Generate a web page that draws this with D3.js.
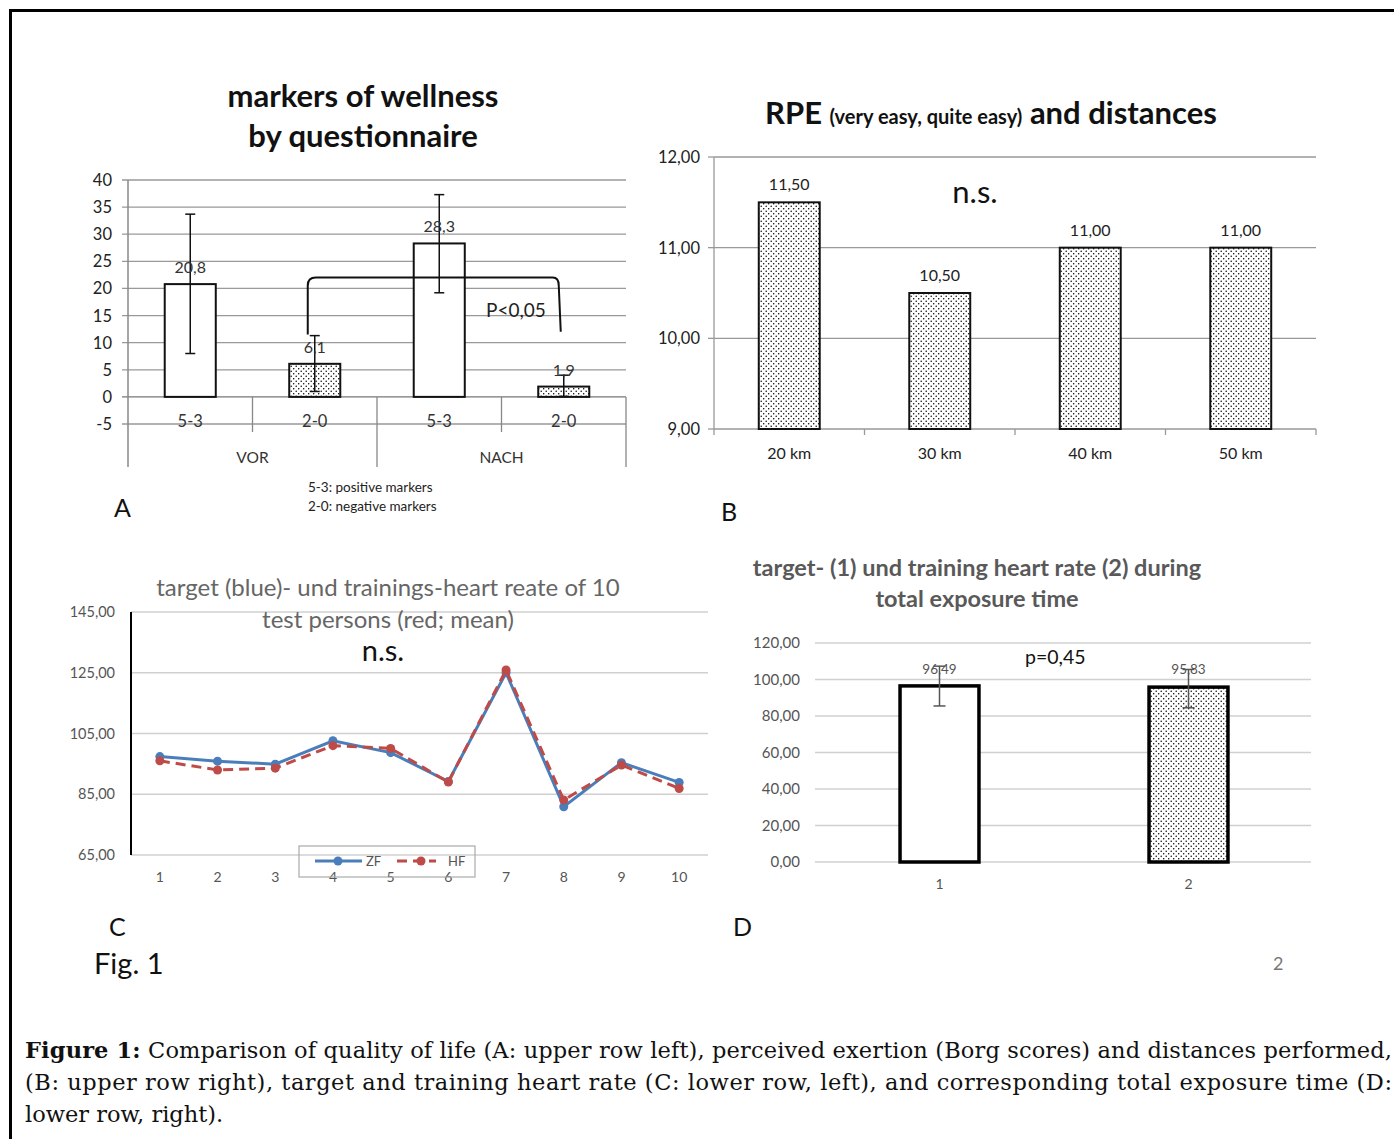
<!DOCTYPE html>
<html><head><meta charset="utf-8">
<script src="https://cdn.jsdelivr.net/npm/d3@7"></script>
<style>
body{margin:0;background:#fff;}
svg{display:block;font-family:Lato,"Open Sans",sans-serif;}
.serif{font-family:"DejaVu Serif","Liberation Serif",serif;}
</style></head>
<body>
<svg id="fig" width="1394" height="1139"></svg>
<script>
// ---------- Panel A data ----------
const aGroups = ["VOR","VOR","NACH","NACH"];
const aCats = ["5-3","2-0","5-3","2-0"];
const aValues = [20.8, 6.1, 28.3, 1.9];
const aLabels = ["20,8","6,1","28,3","1,9"];
const aErrLow = [8.0, 1.0, 19.2, 0.1];
const aErrHigh = [33.7, 11.3, 37.3, 4.0];
const aTicks = [-5,0,5,10,15,20,25,30,35,40];

// ---------- Panel B data ----------
const bCats = ["20 km","30 km","40 km","50 km"];
const bValues = [11.5, 10.5, 11.0, 11.0];
const bLabels = ["11,50","10,50","11,00","11,00"];
const bTicks = [9,10,11,12];

// ---------- Panel C data ----------
const cCats = ["1","2","3","4","5","6","7","8","9","10"];
const cZF = [97.4, 95.9, 94.9, 102.6, 98.7, 89.2, 125.0, 80.9, 95.4, 88.9];
const cHF = [96.0, 93.0, 93.6, 101.0, 100.1, 89.0, 125.9, 83.1, 94.6, 86.9];
const cTicks = [65,85,105,125,145];

// ---------- Panel D data ----------
const dCats = ["1","2"];
const dValues = [96.49, 95.83];
const dLabels = ["96,49","95,83"];
const dErrLow = [85.5, 84.5];
const dErrHigh = [107.3, 105.5];
const dTicks = [0,20,40,60,80,100,120];

const fmt2 = d => d.toFixed(2).replace(".", ",");

const svg = d3.select("#fig");
const defs = svg.append("defs");
const pat = defs.append("pattern").attr("id","dots").attr("patternUnits","userSpaceOnUse")
  .attr("width",5).attr("height",5);
pat.append("rect").attr("width",5).attr("height",5).attr("fill","#fff");
pat.append("circle").attr("cx",1.2).attr("cy",1.2).attr("r",0.75).attr("fill","#000");
pat.append("circle").attr("cx",3.7).attr("cy",3.7).attr("r",0.75).attr("fill","#000");

// outer frame
svg.append("path").attr("d","M1400,10.5 H10.5 V1145").attr("fill","none").attr("stroke","#000").attr("stroke-width",3);

// ================= PANEL A =================
{
  const g = svg.append("g");
  const y = d3.scaleLinear().domain([-5,40]).range([424,180]);
  const x = d3.scaleBand().domain(d3.range(4)).range([128,626]).paddingInner(0.59).paddingOuter(0.295);
  const step = x.step();
  g.append("text").attr("x",363).attr("y",107).attr("text-anchor","middle").attr("font-size",31).attr("font-weight","bold").attr("fill","#111").text("markers of wellness");
  g.append("text").attr("x",363).attr("y",147).attr("text-anchor","middle").attr("font-size",31).attr("font-weight","bold").attr("fill","#111").text("by questionnaire");
  g.selectAll(".ga").data(aTicks).join("line")
    .attr("x1",122).attr("x2",626).attr("y1",d=>y(d)).attr("y2",d=>y(d))
    .attr("stroke", d=> d===0 ? "#777" : "#999").attr("stroke-width",1.3);
  g.selectAll(".ta").data(aTicks).join("text")
    .attr("x",112).attr("y",d=>y(d)+6).attr("text-anchor","end").attr("font-size",16.5).attr("fill","#222")
    .text(d=>d);
  g.append("line").attr("x1",128).attr("x2",128).attr("y1",180).attr("y2",467).attr("stroke","#888").attr("stroke-width",1.5);
  const sep = [[128+step,432],[128+2*step,467],[128+3*step,432],[626,467]];
  g.selectAll(".sa").data(sep).join("line")
    .attr("x1",d=>d[0]).attr("x2",d=>d[0]).attr("y1",y(0)).attr("y2",d=>d[1]).attr("stroke","#888").attr("stroke-width",1.3);
  g.selectAll(".ca").data(aCats).join("text")
    .attr("x",(d,i)=>x(i)+x.bandwidth()/2).attr("y",427).attr("text-anchor","middle").attr("font-size",16.5).attr("fill","#333").text(d=>d);
  const groups = ["VOR","NACH"];
  g.selectAll(".grA").data(groups).join("text")
    .attr("x",(d,i)=>128+step*(2*i+1)).attr("y",463).attr("text-anchor","middle").attr("font-size",15.5).attr("fill","#333").text(d=>d);
  g.selectAll(".ba").data(aValues).join("rect")
    .attr("x",(d,i)=>x(i)).attr("width",x.bandwidth())
    .attr("y",d=>y(d)).attr("height",d=>y(0)-y(d))
    .attr("fill",(d,i)=> aCats[i]==="2-0" ? "url(#dots)" : "#fff")
    .attr("stroke","#111").attr("stroke-width",2);
  aValues.forEach((v,i)=>{
    const cx = x(i)+x.bandwidth()/2;
    g.append("line").attr("x1",cx).attr("x2",cx).attr("y1",y(aErrLow[i])).attr("y2",y(aErrHigh[i])).attr("stroke","#111").attr("stroke-width",1.5);
    [aErrLow[i],aErrHigh[i]].forEach(e=>g.append("line").attr("x1",cx-5).attr("x2",cx+5).attr("y1",y(e)).attr("y2",y(e)).attr("stroke","#111").attr("stroke-width",1.5));
  });
  g.selectAll(".la").data(aLabels).join("text")
    .attr("x",(d,i)=>x(i)+x.bandwidth()/2).attr("y",(d,i)=>y(aValues[i])-11)
    .attr("text-anchor","middle").attr("font-size",16).attr("fill","#333").text(d=>d);
  const x1 = x(1)+x.bandwidth()/2-7, x2 = x(3)+x.bandwidth()/2-5;
  const yt = y(22);
  g.append("path").attr("d",`M${x1},${y(11.5)} L${x1},${yt+8} Q${x1},${yt} ${x1+8},${yt} L${x2-6},${yt} Q${x2},${yt} ${x2},${yt+8} L${x2+2},${y(12)}`)
    .attr("fill","none").attr("stroke","#111").attr("stroke-width",2);
  g.append("text").attr("x",486).attr("y",317).attr("font-size",19).attr("fill","#222").text("P<0,05");
  g.append("text").attr("x",308).attr("y",492).attr("font-size",13.5).attr("fill","#222").text("5-3: positive markers");
  g.append("text").attr("x",308).attr("y",511).attr("font-size",13.5).attr("fill","#222").text("2-0: negative markers");
  g.append("text").attr("x",114).attr("y",517).attr("font-size",25).attr("fill","#111").text("A");
}

// ================= PANEL B =================
{
  const g = svg.append("g");
  const y = d3.scaleLinear().domain([9,12]).range([429,157]);
  const x = d3.scaleBand().domain(bCats).range([714,1316]).paddingInner(0.595).paddingOuter(0.2975);
  const t = g.append("text").attr("x",991).attr("y",124).attr("text-anchor","middle").attr("font-weight","bold").attr("fill","#111");
  t.append("tspan").attr("font-size",31).text("RPE ");
  t.append("tspan").attr("font-size",20).text("(very  easy, quite easy)");
  t.append("tspan").attr("font-size",31).text(" and distances");
  g.selectAll(".gb").data(bTicks.filter(d=>d>9)).join("line")
    .attr("x1",714).attr("x2",1316).attr("y1",d=>y(d)).attr("y2",d=>y(d)).attr("stroke","#999").attr("stroke-width",1.3);
  g.selectAll(".tk").data(bTicks).join("line")
    .attr("x1",708).attr("x2",714).attr("y1",d=>y(d)).attr("y2",d=>y(d)).attr("stroke","#999").attr("stroke-width",1.3);
  g.selectAll(".tb").data(bTicks).join("text")
    .attr("x",700).attr("y",d=>y(d)+6).attr("text-anchor","end").attr("font-size",16.5).attr("fill","#222").text(fmt2);
  g.append("line").attr("x1",714).attr("x2",714).attr("y1",157).attr("y2",429).attr("stroke","#999").attr("stroke-width",1.3);
  g.append("line").attr("x1",714).attr("x2",1316).attr("y1",429).attr("y2",429).attr("stroke","#999").attr("stroke-width",1.3);
  const bnd = d3.range(5).map(i=>714+i*x.step());
  g.selectAll(".xt").data(bnd).join("line")
    .attr("x1",d=>d).attr("x2",d=>d).attr("y1",429).attr("y2",435).attr("stroke","#999").attr("stroke-width",1.3);
  g.selectAll(".bb").data(bValues).join("rect")
    .attr("x",(d,i)=>x(bCats[i])).attr("width",x.bandwidth())
    .attr("y",d=>y(d)).attr("height",d=>y(9)-y(d))
    .attr("fill","url(#dots)").attr("stroke","#111").attr("stroke-width",2);
  g.selectAll(".lb").data(bLabels).join("text")
    .attr("x",(d,i)=>x(bCats[i])+x.bandwidth()/2).attr("y",(d,i)=>y(bValues[i])-12)
    .attr("text-anchor","middle").attr("font-size",16).attr("fill","#222").text(d=>d);
  g.selectAll(".xb").data(bCats).join("text")
    .attr("x",d=>x(d)+x.bandwidth()/2).attr("y",459).attr("text-anchor","middle").attr("font-size",16).attr("fill","#222").text(d=>d);
  g.append("text").attr("x",975).attr("y",203).attr("text-anchor","middle").attr("font-size",31).attr("fill","#111").text("n.s.");
  g.append("text").attr("x",721).attr("y",521).attr("font-size",25).attr("fill","#111").text("B");
}

// ================= PANEL C =================
{
  const g = svg.append("g");
  const y = d3.scaleLinear().domain([65,145]).range([855,612]);
  const x = d3.scaleBand().domain(cCats).range([131,708]);
  const cx = d => x(d)+x.bandwidth()/2;
  g.selectAll(".gc").data(cTicks).join("line")
    .attr("x1",131).attr("x2",708).attr("y1",d=>y(d)).attr("y2",d=>y(d)).attr("stroke","#d0d0d0").attr("stroke-width",1.3);
  g.selectAll(".tc").data(cTicks).join("text")
    .attr("x",115).attr("y",d=>y(d)+5).attr("text-anchor","end").attr("font-size",14.5).attr("fill","#555").text(fmt2);
  g.append("line").attr("x1",131).attr("x2",131).attr("y1",612).attr("y2",855).attr("stroke","#000").attr("stroke-width",2);
  g.append("text").attr("x",388).attr("y",596).attr("text-anchor","middle").attr("font-size",24).attr("fill","#666").text("target (blue)- und trainings-heart reate of 10");
  g.append("text").attr("x",388).attr("y",628).attr("text-anchor","middle").attr("font-size",24).attr("fill","#666").text("test persons (red; mean)");
  g.append("text").attr("x",383).attr("y",661).attr("text-anchor","middle").attr("font-size",29).attr("fill","#111").text("n.s.");
  g.selectAll(".xc").data(cCats).join("text")
    .attr("x",cx).attr("y",882).attr("text-anchor","middle").attr("font-size",14).attr("fill","#555").text(d=>d);
  const line = d3.line().x((d,i)=>cx(cCats[i])).y(d=>y(d));
  g.append("path").attr("d",line(cZF)).attr("fill","none").attr("stroke","#4a7ebb").attr("stroke-width",3);
  g.selectAll(".mz").data(cZF).join("circle").attr("cx",(d,i)=>cx(cCats[i])).attr("cy",d=>y(d)).attr("r",4.5).attr("fill","#4a7ebb");
  g.append("path").attr("d",line(cHF)).attr("fill","none").attr("stroke","#be4b48").attr("stroke-width",3).attr("stroke-dasharray","10,6");
  g.selectAll(".mh").data(cHF).join("circle").attr("cx",(d,i)=>cx(cCats[i])).attr("cy",d=>y(d)).attr("r",4.5).attr("fill","#be4b48");
  const lg = g.append("g");
  lg.append("rect").attr("x",299).attr("y",846).attr("width",176).attr("height",31).attr("fill","none").attr("stroke","#aaa").attr("stroke-width",1.2);
  lg.append("line").attr("x1",315).attr("x2",362).attr("y1",861).attr("y2",861).attr("stroke","#4a7ebb").attr("stroke-width",3);
  lg.append("circle").attr("cx",338).attr("cy",861).attr("r",4.5).attr("fill","#4a7ebb");
  lg.append("text").attr("x",366).attr("y",866).attr("font-size",13).attr("fill","#555").text("ZF");
  lg.append("line").attr("x1",397).attr("x2",436).attr("y1",861).attr("y2",861).attr("stroke","#be4b48").attr("stroke-width",3).attr("stroke-dasharray","10,6");
  lg.append("circle").attr("cx",421).attr("cy",861).attr("r",4.5).attr("fill","#be4b48");
  lg.append("text").attr("x",448).attr("y",866).attr("font-size",13).attr("fill","#555").text("HF");
  g.append("text").attr("x",109).attr("y",936).attr("font-size",25).attr("fill","#111").text("C");
  g.append("text").attr("x",94).attr("y",974).attr("font-size",29).attr("fill","#111").text("Fig. 1");
}

// ================= PANEL D =================
{
  const g = svg.append("g");
  const y = d3.scaleLinear().domain([0,120]).range([862,643]);
  const x = d3.scaleBand().domain(dCats).range([815,1313]).paddingInner(0.683).paddingOuter(0.3415);
  g.append("text").attr("x",977).attr("y",576).attr("text-anchor","middle").attr("font-size",23.5).attr("font-weight","bold").attr("fill","#595959").text("target- (1) und training heart rate (2) during");
  g.append("text").attr("x",977).attr("y",607).attr("text-anchor","middle").attr("font-size",23.5).attr("font-weight","bold").attr("fill","#595959").text("total exposure time");
  g.selectAll(".gd").data(dTicks).join("line")
    .attr("x1",815).attr("x2",1311).attr("y1",d=>y(d)).attr("y2",d=>y(d)).attr("stroke","#d0d0d0").attr("stroke-width",1.3);
  g.selectAll(".td").data(dTicks).join("text")
    .attr("x",800).attr("y",d=>y(d)+5).attr("text-anchor","end").attr("font-size",15).attr("fill","#555").text(fmt2);
  g.selectAll(".bd").data(dValues).join("rect")
    .attr("x",(d,i)=>x(dCats[i])).attr("width",x.bandwidth())
    .attr("y",d=>y(d)).attr("height",d=>y(0)-y(d))
    .attr("fill",(d,i)=> i===0 ? "#fff" : "url(#dots)").attr("stroke","#000").attr("stroke-width",3.5);
  dValues.forEach((v,i)=>{
    const cx = x(dCats[i])+x.bandwidth()/2;
    g.append("line").attr("x1",cx).attr("x2",cx).attr("y1",y(dErrLow[i])).attr("y2",y(dErrHigh[i])).attr("stroke","#555").attr("stroke-width",1.5);
    [dErrLow[i],dErrHigh[i]].forEach(e=>g.append("line").attr("x1",cx-6).attr("x2",cx+6).attr("y1",y(e)).attr("y2",y(e)).attr("stroke","#555").attr("stroke-width",1.5));
  });
  g.selectAll(".ld").data(dLabels).join("text")
    .attr("x",(d,i)=>x(dCats[i])+x.bandwidth()/2).attr("y",674).attr("text-anchor","middle").attr("font-size",13.5).attr("fill","#555").text(d=>d);
  g.selectAll(".xd").data(dCats).join("text")
    .attr("x",d=>x(d)+x.bandwidth()/2).attr("y",889).attr("text-anchor","middle").attr("font-size",14).attr("fill","#555").text(d=>d);
  g.append("text").attr("x",1025).attr("y",664).attr("font-size",19.5).attr("fill","#111").text("p=0,45");
  g.append("text").attr("x",733).attr("y",936).attr("font-size",25).attr("fill","#111").text("D");
  g.append("text").attr("x",1273).attr("y",970).attr("font-size",18).attr("fill","#777").text("2");
}

// ================= CAPTION =================
{
  const l1 = svg.append("text").attr("class","serif").attr("x",25).attr("y",1058).attr("font-size",22.5).attr("fill","#111")
    .attr("textLength",1367).attr("lengthAdjust","spacing");
  l1.append("tspan").attr("font-weight","bold").text("Figure 1:");
  l1.append("tspan").text(" Comparison of quality of life (A: upper row left), perceived exertion (Borg scores) and distances performed,");
  svg.append("text").attr("class","serif").attr("x",25).attr("y",1090).attr("font-size",22.5).attr("fill","#111")
    .attr("textLength",1367).attr("lengthAdjust","spacing")
    .text("(B: upper row right), target and training heart rate (C: lower row, left), and corresponding total exposure time (D:");
  svg.append("text").attr("class","serif").attr("x",25).attr("y",1122).attr("font-size",22.5).attr("fill","#111")
    .text("lower row, right).");
}
</script>
</body></html>
